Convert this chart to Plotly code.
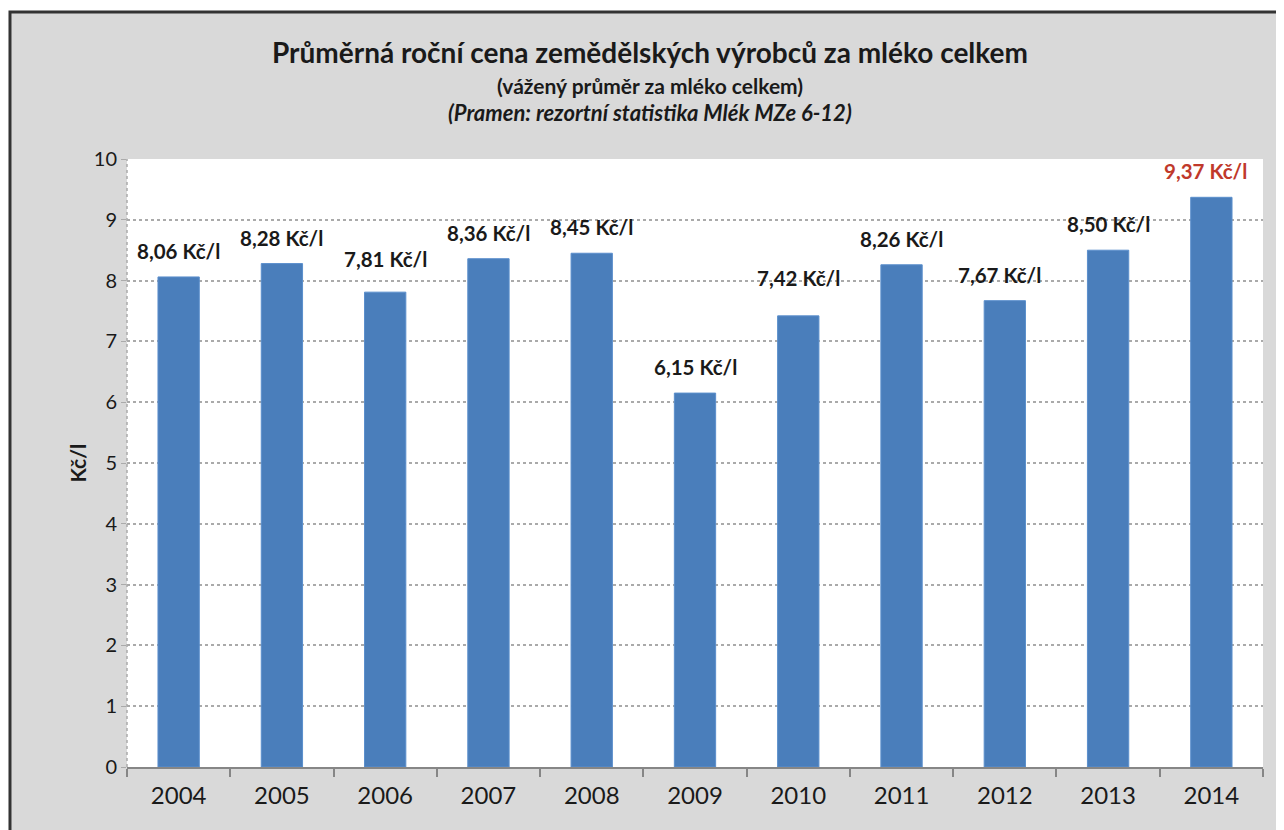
import plotly.graph_objects as go

years = ['2004', '2005', '2006', '2007', '2008', '2009', '2010', '2011', '2012', '2013', '2014']
prices = [8.06, 8.28, 7.81, 8.36, 8.45, 6.15, 7.42, 8.26, 7.67, 8.50, 9.37]
y_ticks = [0, 1, 2, 3, 4, 5, 6, 7, 8, 9, 10]

title_main = "Průměrná roční cena zemědělských výrobců za mléko celkem"
title_sub = "(vážený průměr za mléko celkem)"
title_src = "(Pramen: rezortní statistika Mlék MZe 6-12)"
y_title = "Kč/l"

FONT = "Lato, 'Open Sans', sans-serif"
BAR = '#4a7ebb'
GRAY_BG = '#d9d9d9'
GRID = '#aaaaaa'

# label tweaks (Excel lets labels be dragged around)
label_shift = {'2006': 33, '2010': 38}
label_dx = {'2012': -5, '2014': -6}

fig = go.Figure()
fig.add_trace(go.Bar(
    x=years, y=prices,
    marker=dict(color=BAR, line=dict(color='#5b8fcc', width=1)),
    width=0.4,
    hoverinfo='x+y',
))

for i, (yr, v) in enumerate(zip(years, prices)):
    txt = f"{v:.2f}".replace('.', ',') + " Kč/l"
    fig.add_annotation(
        x=i, y=v, xref='x', yref='y',
        text=f"<b>{txt}</b>", showarrow=False,
        yanchor='middle', yshift=label_shift.get(yr, 26), xshift=label_dx.get(yr, 0),
        font=dict(family=FONT, size=20.5, color='#c0392b' if yr == '2014' else '#1a1a1a'),
    )

# titles
for txt, yy, sz in [(f"<b>{title_main}</b>", 1.176, 28),
                    (f"<b>{title_sub}</b>", 1.1217, 21),
                    (f"<b><i>{title_src}</i></b>", 1.0773, 22)]:
    fig.add_annotation(x=0.4604, y=yy, xref='paper', yref='paper', text=txt,
                       showarrow=False, xanchor='center', yanchor='middle',
                       font=dict(family=FONT, size=sz, color='#1a1a1a'))

fig.add_annotation(x=-0.0572, y=0.5, xref='paper', yref='paper', text=f"<b>{y_title}</b>",
                   showarrow=False, textangle=-90, font=dict(family=FONT, size=21, color='#1a1a1a'))

# background panel with dark frame, then white plot area, dotted left axis
fig.add_shape(type='rect', xref='paper', yref='paper', x0=-0.103, y0=-0.13, x1=1.04, y1=1.2418,
              fillcolor=GRAY_BG, line=dict(color='#333333', width=3), layer='below')
fig.add_shape(type='rect', xref='paper', yref='paper', x0=0, y0=0, x1=1, y1=1,
              fillcolor='white', line=dict(width=0), layer='below')
fig.add_shape(type='line', xref='paper', yref='paper', x0=0, y0=0, x1=0, y1=1,
              line=dict(color=GRID, width=1.5, dash='dot'))

fig.update_layout(
    width=1284, height=830,
    margin=dict(l=119, r=29, t=151, b=71, autoexpand=False),
    paper_bgcolor='white', plot_bgcolor='white',
    showlegend=False,
    font=dict(family=FONT, size=17, color='#1a1a1a'),
    xaxis=dict(
        type='category', range=[-0.5, len(years) - 0.5], tickangle=0,
        tickson='boundaries', ticks='outside', ticklen=8, tickwidth=2,
        tickcolor='#868686', showline=True, linecolor='#868686', linewidth=2,
        showgrid=False, tickfont=dict(family=FONT, size=24, color='#1a1a1a'),
        ticklabelstandoff=6, automargin=False,
    ),
    yaxis=dict(
        range=[0, 10], tickvals=y_ticks, showgrid=True, gridcolor=GRID, griddash='dot',
        gridwidth=1.5, showline=False,
        ticks='outside', ticklen=5, tickcolor=GRID, zeroline=False,
        tickfont=dict(family=FONT, size=20, color='#1a1a1a'), automargin=False,
    ),
)

fig.write_html("out.html")
